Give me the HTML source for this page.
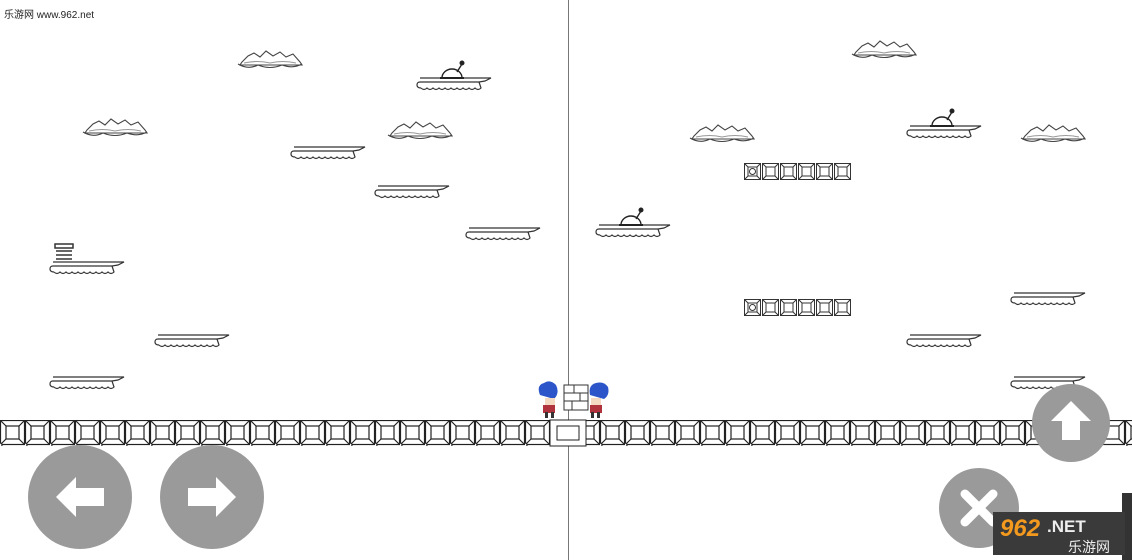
<!DOCTYPE html>
<html><head><meta charset="utf-8"><style>
html,body{margin:0;padding:0;background:#fff;width:1132px;height:560px;overflow:hidden;position:relative;font-family:"Liberation Sans","Noto Sans CJK SC",sans-serif}
.wm{position:absolute;left:4px;top:6px;font-size:10px;color:#222}
</style></head><body>
<svg width="1132" height="560" viewBox="0 0 1132 560" style="position:absolute;left:0;top:0">
<defs>
<g id="plat" fill="none" stroke="#333" stroke-width="1.2">
<path d="M3,0 H74 L68,3 L62,4 H3 Q0,4 0,7 Q0,10 4,10"/>
<path d="M4,10 q3,3 6,0 q3,3 6,0 q3,3 6,0 q3,3 6,0 q3,3 6,0 q3,3 6,0 q3,3 6,0 q3,3 6,0 q3,3 6,0 q3,3 6,0 L62,4"/>
</g>
<g id="dome" fill="none" stroke="#222" stroke-width="1.4">
<path d="M25,0 a10,9 0 0 1 20,0 Z" fill="#fff"/>
<line x1="40" y1="-6" x2="45" y2="-14"/><circle cx="45" cy="-15" r="1.8" fill="#222"/>
<line x1="23" y1="0" x2="47" y2="0" stroke-width="2"/>
</g>
<g id="cloud" fill="#fff" stroke="#444" stroke-width="1.1">
<path d="M4,12 L10,6 L16,3 L22,7 L28,1 L35,6 L42,2 L48,7 L55,4 L62,12 L64,15 L2,15 Z"/>
<path d="M0,14 Q10,20 20,15 Q32,20 44,15 Q55,19 64,14" fill="none"/>
<path d="M6,13 Q20,10 32,13 Q45,10 58,13" fill="none" stroke="#999"/>
</g>
<g id="blk" fill="none" stroke="#222" stroke-width="1.2">
<rect x="0.5" y="0.5" width="24" height="24"/>
<rect x="6" y="6" width="13" height="13"/>
<path d="M0.5,0.5 L6,6 M24.5,0.5 L19,6 M0.5,24.5 L6,19 M24.5,24.5 L19,19"/>
<circle cx="0" cy="25" r="2" fill="#fff"/>
</g>
<g id="sb" fill="none" stroke="#333" stroke-width="1">
<rect x="0.5" y="0.5" width="16" height="16"/>
<rect x="4" y="4" width="9" height="9"/>
<path d="M0.5,0.5 L4,4 M16.5,0.5 L13,4 M0.5,16.5 L4,13 M16.5,16.5 L13,13"/>
</g>
<g id="row"><use href="#sb" x="0"/><use href="#sb" x="18"/><use href="#sb" x="36"/><use href="#sb" x="54"/><use href="#sb" x="72"/><use href="#sb" x="90"/><circle cx="8.5" cy="8.5" r="3" fill="none" stroke="#333"/></g>
<pattern id="gnd" x="0" y="420" width="25" height="27" patternUnits="userSpaceOnUse"><use href="#blk"/></pattern>
</defs>
<line x1="568.5" y1="0" x2="568.5" y2="560" stroke="#777" stroke-width="1"/>
<!-- clouds -->
<use href="#cloud" x="238" y="50"/><use href="#cloud" x="83" y="118"/><use href="#cloud" x="388" y="121"/>
<use href="#cloud" x="690" y="124"/><use href="#cloud" x="852" y="40"/><use href="#cloud" x="1021" y="124"/>
<!-- platforms -->
<use href="#plat" x="50" y="377"/><use href="#plat" x="155" y="335"/><use href="#plat" x="50" y="262"/>
<use href="#plat" x="466" y="228"/><use href="#plat" x="375" y="186"/><use href="#plat" x="291" y="147"/>
<use href="#plat" x="417" y="78"/><use href="#dome" x="417" y="78"/>
<use href="#plat" x="596" y="225"/><use href="#dome" x="596" y="225"/>
<use href="#plat" x="907" y="126"/><use href="#dome" x="907" y="126"/>
<use href="#plat" x="1011" y="293"/><use href="#plat" x="907" y="335"/><use href="#plat" x="1011" y="377"/>
<!-- spring -->
<g fill="none" stroke="#333" stroke-width="1.5"><rect x="55" y="244" width="18" height="4"/><path d="M56,251 H72 M56,255 H72 M56,259 H72"/></g>
<use href="#row" x="744" y="163"/><use href="#row" x="744" y="299"/>
<!-- ground -->
<rect x="0" y="420" width="1132" height="26" fill="url(#gnd)"/>
<rect x="550" y="420" width="36" height="26" fill="#fff" stroke="#222"/>
<rect x="557" y="426" width="22" height="14" fill="none" stroke="#222"/>
<!-- characters -->
<g>
<path d="M540,395 q-4,-10 4,-12 q6,-4 12,2 q4,8 -2,14 z" fill="#2b55c8"/><rect x="545" y="398" width="10" height="8" fill="#f3d8c2"/><rect x="543" y="405" width="12" height="8" fill="#b0323c"/><rect x="545" y="412" width="3" height="6" fill="#333"/><rect x="551" y="412" width="3" height="6" fill="#333"/>
<path d="M590,395 q-2,-10 6,-12 q8,-2 12,4 q2,8 -4,12 z" fill="#2b55c8"/><rect x="591" y="398" width="10" height="8" fill="#f3d8c2"/><rect x="590" y="405" width="12" height="8" fill="#b0323c"/><rect x="591" y="412" width="3" height="6" fill="#333"/><rect x="597" y="412" width="3" height="6" fill="#333"/>
<g fill="#fff" stroke="#333"><rect x="564" y="385" width="24" height="25"/><path d="M564,393 H588 M564,401 H588 M574,385 V393 M580,393 V401 M572,401 V410" fill="none"/></g>
</g>
<!-- buttons -->
<g fill="#9a9a9a"><circle cx="80" cy="497" r="52"/><circle cx="212" cy="497" r="52"/><circle cx="1071" cy="423" r="39"/><circle cx="979" cy="508" r="40"/></g>
<g fill="#fff">
<path d="M56,497 L76,477 L76,488 L104,488 L104,506 L76,506 L76,517 Z"/>
<path d="M236,497 L216,477 L216,488 L188,488 L188,506 L216,506 L216,517 Z"/>
<path d="M1071,401 L1091,421 L1080,421 L1080,440 L1062,440 L1062,421 L1051,421 Z"/>
</g>
<path d="M965,494 L993,522 M993,494 L965,522" stroke="#fff" stroke-width="9" stroke-linecap="round"/>
<!-- logo -->
<rect x="1122" y="493" width="10" height="67" fill="#333"/>
<rect x="993" y="512" width="132" height="43" fill="#3a3a3a"/>
<text x="1000" y="536" font-family="Liberation Sans" font-style="italic" font-weight="bold" font-size="24" fill="#f39a1e">962</text>
<text x="1047" y="532" font-family="Liberation Sans" font-weight="bold" font-size="17" fill="#eee">.NET</text>
<text x="1068" y="552" font-family="Noto Sans CJK SC,sans-serif" font-size="14" fill="#eee">乐游网</text>
</svg>
<div class="wm">乐游网 www.962.net</div>
</body></html>
